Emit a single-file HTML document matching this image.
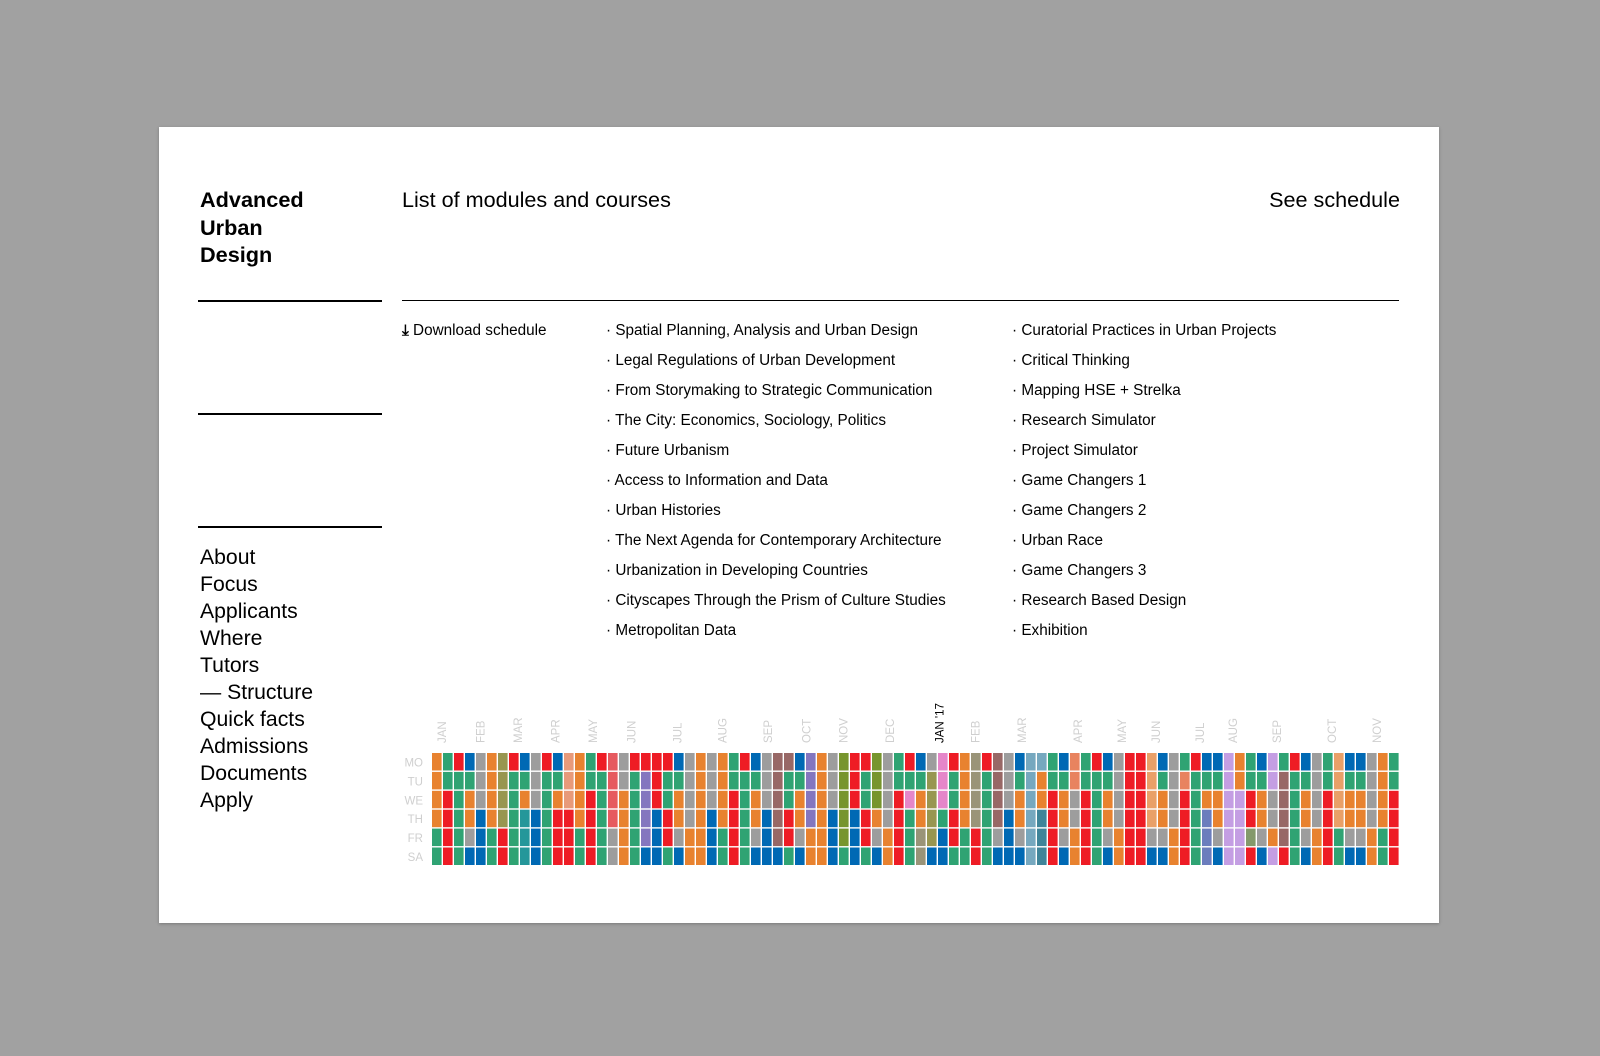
<!DOCTYPE html>
<html><head><meta charset="utf-8">
<style>
html,body{margin:0;padding:0;}
body{width:1600px;height:1056px;background:#a1a1a1;position:relative;overflow:hidden;font-family:"Liberation Sans",Arial,sans-serif;color:#000;}
#card{position:absolute;left:159px;top:127px;width:1280px;height:796px;background:#fff;box-shadow:0 1px 3px rgba(0,0,0,.25);}
.abs{position:absolute;white-space:nowrap;}
.title{left:41px;top:59px;font-size:21.7px;font-weight:bold;line-height:27.5px;}
.h2{font-size:21.6px;top:59px;line-height:27.5px;}
.rule{position:absolute;background:#000;}
.course{font-size:15.3px;line-height:30px;}
.nav{left:41px;top:417px;font-size:21.2px;line-height:27px;}
</style></head><body>
<div id="card">
  <div class="abs title">Advanced<br>Urban<br>Design</div>
  <div class="abs h2" style="left:243px">List of modules and courses</div>
  <div class="abs h2" style="right:39px">See schedule</div>
  <div class="rule" style="left:39px;top:173px;width:184px;height:2px"></div>
  <div class="rule" style="left:39px;top:286px;width:184px;height:2px"></div>
  <div class="rule" style="left:39px;top:399px;width:184px;height:2px"></div>
  <div class="rule" style="left:243px;top:173px;width:997px;height:1px"></div>
  <div class="abs course" style="left:243px;top:189px"><b>⤓</b> Download schedule</div>
  <div class="abs course" style="left:447px;top:189px">
    <div>· Spatial Planning, Analysis and Urban Design</div>
    <div>· Legal Regulations of Urban Development</div>
    <div>· From Storymaking to Strategic Communication</div>
    <div>· The City: Economics, Sociology, Politics</div>
    <div>· Future Urbanism</div>
    <div>· Access to Information and Data</div>
    <div>· Urban Histories</div>
    <div>· The Next Agenda for Contemporary Architecture</div>
    <div>· Urbanization in Developing Countries</div>
    <div>· Cityscapes Through the Prism of Culture Studies</div>
    <div>· Metropolitan Data</div>
  </div>
  <div class="abs course" style="left:853px;top:189px">
    <div>· Curatorial Practices in Urban Projects</div>
    <div>· Critical Thinking</div>
    <div>· Mapping HSE + Strelka</div>
    <div>· Research Simulator</div>
    <div>· Project Simulator</div>
    <div>· Game Changers 1</div>
    <div>· Game Changers 2</div>
    <div>· Urban Race</div>
    <div>· Game Changers 3</div>
    <div>· Research Based Design</div>
    <div>· Exhibition</div>
  </div>
  <div class="abs nav">
    <div>About</div>
    <div>Focus</div>
    <div>Applicants</div>
    <div>Where</div>
    <div>Tutors</div>
    <div>— Structure</div>
    <div>Quick facts</div>
    <div>Admissions</div>
    <div>Documents</div>
    <div>Apply</div>
  </div>
</div>
<svg id="chart" width="1600" height="1056" style="position:absolute;left:0;top:0"></svg>
<script>
const days = ["MO","TU","WE","TH","FR","SA"];
const rowMO = "OGRBYOVRBYRBSOGRLYRRRRBYOYOGRBYNNBPOYKRRK"+"YGRBYIROHRNYBAAGBCGRBYRREBYGRBBWOGBWGRBYGEBBYOG";
const rowTU = "OGGGYOVGGYGGSOGGLYGPRGGYOYOGGGYNGGPOYKRGK"+"YGGGVIGOHGNYGAOGGCGGGYRREGYCGGGWOGGWNGGYGEGGYOG";
const rowWE = "ORGOYOVGOYGOSORGLOGPRGOYOYORGOYNGOPOYKRGK"+"YRIOVIGOHGNYOAOROYRGOYRREOYRGOOWWROYNGOYREOOYOR";
const rowTH = "ORGOBOVGTBGRRORGLOGPBROYOBORGOBNROPOBKBRO"+"YRGOVGROHGNBOADROYRGOYRREOYRGMOWWROYNGOYREOOYOR";
const rowFR = "GRGYBGRGTBGRRGRGYOGPBRYOOBGRGYBNRYOOBKBRY"+"ORGHVBRGRGYBYADRYORGYORRYYORGMYWWFYONGYORGYYOGR";
const rowSA = "GRGBBGRGTBGRRGRGYOGBBGBOOBGRGBBBGBOOBGBGB"+"ORGHBBGGRGBBBADRBORGBORRBBORGMBWWRBWRGBORGBBOGR";
const monthLabels = ["JAN","FEB","MAR","APR","MAY","JUN","JUL","AUG","SEP","OCT","NOV","DEC","JAN '17","FEB","MAR","APR","MAY","JUN","JUL","AUG","SEP","OCT","NOV"];
const monthCols = [0.7,4.2,7.6,11,14.4,17.9,22.1,26.2,30.3,33.8,37.2,41.4,45.9,49.2,53.4,58.5,62.5,65.6,69.6,72.6,76.6,81.6,85.7];
const palette = {O:"#e8822f",G:"#2fa373",R:"#ee1c25",B:"#0069b4",Y:"#9d9d9d",V:"#989650",S:"#e89a7a",L:"#e65a5f",P:"#8476bf",N:"#986866",K:"#77952d",T:"#25979a",I:"#e586c9",H:"#9a9478",A:"#76a8bf",D:"#3f8499",C:"#e8835f",E:"#e9a068",W:"#c49ee3",M:"#6b7dbd",F:"#84996b"};
const rows = [rowMO,rowTU,rowWE,rowTH,rowFR,rowSA];

const NS="http://www.w3.org/2000/svg";
const svg=document.getElementById('chart');
const gx0=432, gx1=1400, gy0=753, rowH=18.9;
const nCols=rows[0].length;
const colW=(gx1-gx0)/nCols;
const xPos=c=>gx0+c*colW;
const yPos=r=>gy0+r*rowH;
rows.forEach((row,r)=>{
  for(let c=0;c<row.length;c++){
    const rect=document.createElementNS(NS,'rect');
    rect.setAttribute('x',xPos(c));
    rect.setAttribute('y',yPos(r));
    rect.setAttribute('width',colW-1.4);
    rect.setAttribute('height',rowH-1.4);
    rect.setAttribute('fill',palette[row[c]]||"#9d9d9d");
    
    
    svg.appendChild(rect);
  }
});
days.forEach((d,r)=>{
  const t=document.createElementNS(NS,'text');
  t.setAttribute('x',423);
  t.setAttribute('y',yPos(r)+rowH/2+4);
  t.setAttribute('text-anchor','end');
  t.setAttribute('font-size','11.5');
  t.setAttribute('fill','#cfcfcf');
  t.setAttribute('font-family','Liberation Sans, sans-serif');
  t.textContent=d;
  
  
  svg.appendChild(t);
});
monthLabels.forEach((m,i)=>{
  const x=xPos(monthCols[i])+colW/2+1;
  const t=document.createElementNS(NS,'text');
  t.setAttribute('transform','translate('+x+',743) rotate(-90)');
  t.setAttribute('font-size','11.5');
  t.setAttribute('fill',m.indexOf("'")>=0?'#000':'#cfcfcf');
  t.setAttribute('font-family','Liberation Sans, sans-serif');
  t.textContent=m;
  
  
  svg.appendChild(t);
});
</script>
</body></html>
